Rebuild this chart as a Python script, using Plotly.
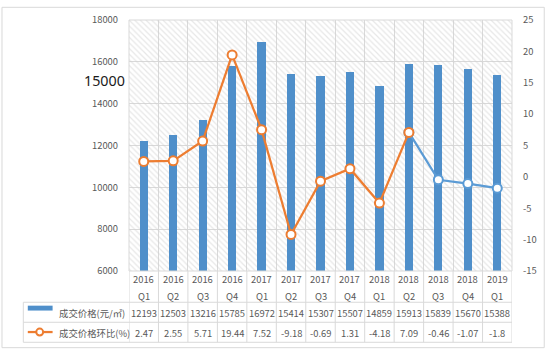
import plotly.graph_objects as go

# ---------------- data ----------------
years = ["2016", "2016", "2016", "2016", "2017", "2017", "2017", "2017",
         "2018", "2018", "2018", "2018", "2019"]
quarters = ["Q1", "Q2", "Q3", "Q4", "Q1", "Q2", "Q3", "Q4",
            "Q1", "Q2", "Q3", "Q4", "Q1"]
price = [12193, 12503, 13216, 15785, 16972, 15414, 15307, 15507,
         14859, 15913, 15839, 15670, 15388]
mom = [2.47, 2.55, 5.71, 19.44, 7.52, -9.18, -0.69, 1.31,
       -4.18, 7.09, -0.46, -1.07, -1.8]
price_text = ["12193", "12503", "13216", "15785", "16972", "15414", "15307",
              "15507", "14859", "15913", "15839", "15670", "15388"]
mom_text = ["2.47", "2.55", "5.71", "19.44", "7.52", "-9.18", "-0.69",
            "1.31", "-4.18", "7.09", "-0.46", "-1.07", "-1.8"]
series_names = ["成交价格(元/㎡)", "成交价格环比(%)"]
left_ticks = [6000, 8000, 10000, 12000, 14000, 16000, 18000]
right_ticks = [-15, -10, -5, 0, 5, 10, 15, 20, 25]
overlay_label = "15000"
split_index = 9  # orange line up to here, blue after

# ---------------- layout constants ----------------
W, H = 549, 351
L, R, T, B = 129, 34, 14, 80
PW, PH = W - L - R, H - T - B
BLUE_BAR = "#4f8fca"
BLUE_LINE = "#5b9bd5"
ORANGE = "#ed7d31"
GRID = "#d9d9d9"
TXT = "#595959"
FONT = "Noto Sans CJK SC, Noto Sans, sans-serif"
FS = 9.4

def px_x(px):
    return (px - L) / PW

def px_y(py):
    return (H - B - py) / PH

n = len(price)
idx = list(range(n))

fig = go.Figure()

# hatched plot background
fig.add_trace(go.Bar(
    x=idx, y=[left_ticks[-1] - left_ticks[0]] * n, base=left_ticks[0], width=1,
    marker=dict(color="rgba(255,255,255,0)", line_width=0,
                pattern=dict(shape="\\", fgcolor="#cfcfcf", bgcolor="rgba(255,255,255,0)",
                             size=4, solidity=0.3, fillmode="overlay")),
    hoverinfo="skip", showlegend=False))

# price bars
fig.add_trace(go.Bar(
    x=idx, y=[p - left_ticks[0] for p in price], base=left_ticks[0], width=0.28,
    marker=dict(color=BLUE_BAR, line_width=0), name=series_names[0], showlegend=False))

# mom line: blue tail then orange head
fig.add_trace(go.Scatter(
    x=idx[split_index:], y=mom[split_index:], yaxis="y2", mode="lines+markers",
    line=dict(color=BLUE_LINE, width=2.25),
    marker=dict(size=9, color="white", line=dict(color=BLUE_LINE, width=2)),
    showlegend=False, hoverinfo="skip"))
fig.add_trace(go.Scatter(
    x=idx[:split_index + 1], y=mom[:split_index + 1], yaxis="y2", mode="lines+markers",
    line=dict(color=ORANGE, width=2.25),
    marker=dict(size=9, color="white", line=dict(color=ORANGE, width=2)),
    name=series_names[1], showlegend=False))

annotations = []
shapes = []

def cell(x, py, text, xref="x", xanchor="center", size=FS, color=TXT, family=FONT):
    return dict(x=x, xref=xref, y=px_y(py), yref="paper", text=text, showarrow=False,
                xanchor=xanchor, yanchor="middle",
                font=dict(size=size, color=color, family=family))

# table header (categories) and values
for i in idx:
    annotations.append(cell(i, 279.5, years[i]))
    annotations.append(cell(i, 296.5, quarters[i]))
    annotations.append(cell(i, 314, price_text[i]))
    annotations.append(cell(i, 334.5, mom_text[i]))

# legend texts in table
annotations.append(cell(px_x(56), 314, series_names[0], xref="paper", xanchor="left"))
annotations.append(cell(px_x(56), 334.5, series_names[1], xref="paper", xanchor="left"))

# stray large label on left axis
annotations.append(cell(px_x(126.5), 76, overlay_label, xref="paper", xanchor="right",
                        size=14.3, color="#1a1a1a", family="Noto Sans, sans-serif"))

line_style = dict(color=GRID, width=1)
# table vertical lines at category boundaries
for b in [i - 0.5 for i in idx] + [n - 0.5]:
    shapes.append(dict(type="line", xref="x", yref="paper", x0=b, x1=b,
                       y0=px_y(271), y1=px_y(344), line=line_style))
# table horizontal lines
for py in (303, 323.5, 344):
    shapes.append(dict(type="line", xref="paper", yref="paper", x0=px_x(22.5), x1=1,
                       y0=px_y(py), y1=px_y(py), line=line_style))
shapes.append(dict(type="line", xref="paper", yref="paper", x0=px_x(22.5), x1=px_x(22.5),
                   y0=px_y(303), y1=px_y(344), line=line_style))
# plot area border
shapes.append(dict(type="rect", xref="paper", yref="paper", x0=0, x1=1, y0=0, y1=1,
                   line=line_style))
# legend symbols
shapes.append(dict(type="rect", xref="paper", yref="paper", x0=px_x(27), x1=px_x(52),
                   y0=px_y(311.5), y1=px_y(306.5), fillcolor=BLUE_BAR, line_width=0))
shapes.append(dict(type="line", xref="paper", yref="paper", x0=px_x(27), x1=px_x(52),
                   y0=px_y(333.5), y1=px_y(333.5), line=dict(color=ORANGE, width=2.25)))
shapes.append(dict(type="circle", xref="paper", yref="paper", x0=px_x(35.5), x1=px_x(42.5),
                   y0=px_y(337), y1=px_y(330), fillcolor="white",
                   line=dict(color=ORANGE, width=2)))
# outer chart border
shapes.append(dict(type="rect", xref="paper", yref="paper", x0=px_x(1), x1=px_x(547.5),
                   y0=px_y(349.5), y1=px_y(1), line=dict(color="#d9d9d9", width=1)))

fig.update_layout(
    width=W, height=H,
    margin=dict(l=L, r=R, t=T, b=B, pad=0),
    paper_bgcolor="white", plot_bgcolor="white",
    barmode="overlay", bargap=0,
    showlegend=False,
    font=dict(family=FONT, size=FS, color=TXT),
    xaxis=dict(range=[-0.5, n - 0.5], tickmode="array",
               tickvals=[i - 0.5 for i in idx] + [n - 0.5],
               showticklabels=False, ticks="", showgrid=True, gridcolor=GRID, gridwidth=1,
               zeroline=False, showline=False, fixedrange=True),
    yaxis=dict(range=[left_ticks[0], left_ticks[-1]], tickmode="array", tickvals=left_ticks,
               ticktext=[str(v) for v in left_ticks],
               showgrid=True, gridcolor=GRID, gridwidth=1, zeroline=False, showline=False,
               ticks="", ticklabelstandoff=10, tickfont=dict(size=FS, color=TXT, family=FONT)),
    yaxis2=dict(range=[right_ticks[0], right_ticks[-1]], overlaying="y", side="right",
                tickmode="array", tickvals=right_ticks, ticktext=[str(v) for v in right_ticks],
                showgrid=False, zeroline=False, showline=False, ticks="",
                ticklabelstandoff=10, tickfont=dict(size=FS, color=TXT, family=FONT)),
    annotations=annotations,
    shapes=shapes,
)

fig.write_html("out.html")
